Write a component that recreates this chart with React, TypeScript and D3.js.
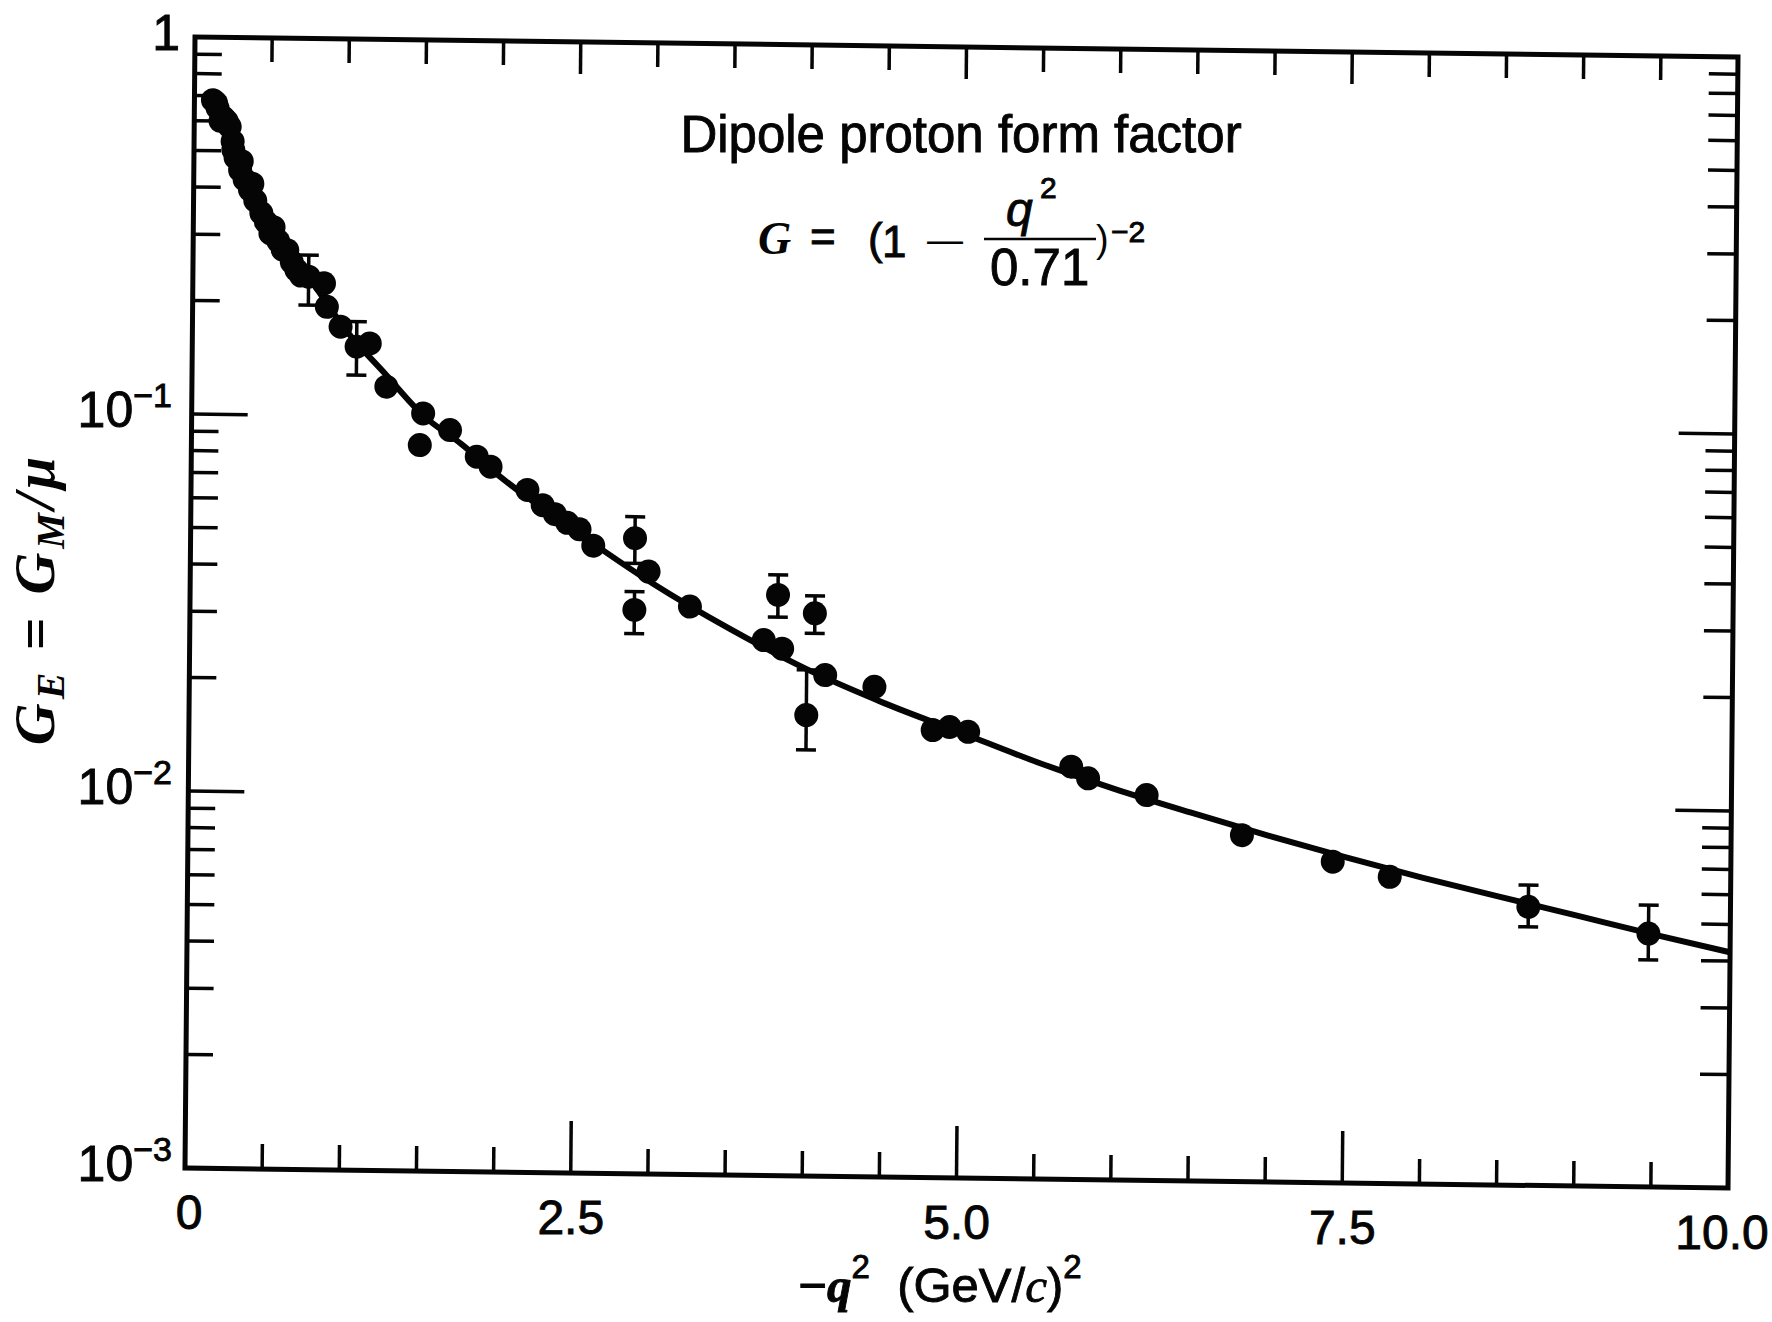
import React from "react";
import * as d3 from "d3";

// ---------- data ----------
// measured form factor points: -q^2 (GeV/c)^2 and G
const pointQ2 = [
  0.12, 0.14, 0.15, 0.17, 0.19, 0.21, 0.23, 0.25, 0.255, 0.27, 0.3, 0.31, 0.33, 0.365, 0.38, 0.4, 0.44, 0.47, 0.5, 0.52, 0.55,
  0.58, 0.61, 0.64, 0.67, 0.7, 0.75, 0.85, 0.87, 0.96,
  1.065, 1.15, 1.26, 1.48, 1.5, 1.675, 1.85, 1.94, 2.18, 2.28, 2.36, 2.44, 2.52, 2.61, 2.88,
  2.88, 2.97, 3.24, 3.72, 3.81, 3.84, 4.0, 4.05, 4.12, 4.44, 4.82, 4.93, 5.05, 5.72, 5.83,
  6.21, 6.83, 7.42, 7.79, 8.69, 9.47,
];
const pointG = [
  0.681, 0.67, 0.65, 0.6, 0.612, 0.6, 0.58, 0.53, 0.503, 0.48, 0.445, 0.47, 0.42, 0.395, 0.41, 0.37, 0.343, 0.325, 0.303, 0.315, 0.29,
  0.275, 0.274, 0.255, 0.243, 0.235, 0.2335, 0.2245, 0.1945, 0.1724,
  0.1528, 0.156, 0.12, 0.0842, 0.1022, 0.0925, 0.0788, 0.0742, 0.0646, 0.0589, 0.0558, 0.053, 0.051, 0.0462, 0.0485,
  0.0313, 0.0396, 0.0321, 0.0263, 0.0347, 0.025, 0.0167, 0.0311, 0.02135, 0.01995, 0.01539, 0.0157, 0.01527, 0.01244, 0.0116,
  0.01052, 0.0083, 0.00711, 0.00651, 0.00548, 0.0047,
];
// error bars
const errQ2 = [0.75, 1.065, 2.88, 2.88, 3.81, 4.0, 4.05, 8.69, 9.47];
const errLo = [0.1963, 0.1285, 0.0416, 0.0271, 0.0303, 0.01349, 0.0275, 0.00485, 0.004];
const errHi = [0.2665, 0.178, 0.0553, 0.035, 0.0392, 0.022, 0.0346, 0.00626, 0.00559];

// dipole curve as drawn
const curveQ2 = [0.1, 0.2, 0.3, 0.4, 0.5, 0.6, 0.8, 1.0, 1.25, 1.5, 1.75, 2.0, 2.5, 3.0, 3.5, 4.0, 4.5, 5.0, 5.5, 6.0, 6.5, 7.0, 7.5, 8.0, 8.5, 9.0, 9.5, 10.0];
const curveG = [0.72, 0.59, 0.455, 0.375, 0.325, 0.282, 0.218, 0.168, 0.13, 0.101, 0.085, 0.07, 0.0502, 0.0368, 0.0281, 0.0221, 0.0181, 0.0152, 0.01275, 0.0109, 0.00948, 0.0083, 0.00732, 0.0065, 0.00582, 0.00522, 0.00468, 0.00422];

// axes
const xMajorTicks = [0, 2.5, 5, 7.5, 10];
const xTickLabels = ["0", "2.5", "5.0", "7.5", "10.0"];
const xAllTicks = [0.5, 1, 1.5, 2, 2.5, 3, 3.5, 4, 4.5, 5, 5.5, 6, 6.5, 7, 7.5, 8, 8.5, 9, 9.5];
const yMajorTicks = [1, 0.1, 0.01, 0.001];
const yTickBase = ["1", "10", "10", "10"];
const yTickExp = ["", "\u22121", "\u22122", "\u22123"];

const titleText = "Dipole proton form factor";

// ---------- layout ----------
const W = 1543;
const H = 1131;
const M = { a: 1, b: 0.01296, c: -0.00884, d: 1, e: 195, f: 37 };
const page = (lx: number, ly: number): [number, number] => [
  M.a * lx + M.c * ly + M.e,
  M.b * lx + M.d * ly + M.f,
];

const SANS = "'Liberation Sans', Arial, Helvetica, sans-serif";
const SERIF = "'Liberation Serif', 'Times New Roman', serif";

export default function App() {
  const x = d3.scaleLinear().domain([0, 10]).range([0, W]);
  const y = d3.scaleLog().domain([0.001, 1]).range([H, 0]);

  const curvePts = curveQ2.map((q, i) => [q, curveG[i]] as [number, number]);
  const line = d3
    .line<[number, number]>()
    .x((d) => x(d[0]))
    .y((d) => y(d[1]))
    .curve(d3.curveMonotoneX);

  const yMinor = y.ticks().filter((v) => !yMajorTicks.some((m) => Math.abs(m - v) < 1e-12));
  const isXMajor = (v: number) => xMajorTicks.includes(v);

  const ink = "#050505";
  const tStroke = { stroke: ink, strokeWidth: 0.9 };

  return (
    <svg
      width={1772}
      height={1322}
      style={{ position: "absolute", left: 0, top: 0, background: "#fff" }}
    >
      <rect x={0} y={0} width={1772} height={1322} fill="#fff" />
      <g transform={`matrix(${M.a},${M.b},${M.c},${M.d},${M.e},${M.f})`}>
        {/* frame */}
        <rect x={0} y={0} width={W} height={H} fill="none" stroke={ink} strokeWidth={5} />
        {/* bottom & top x ticks */}
        {xAllTicks.map((v) => (
          <g key={"xt" + v}>
            <line x1={x(v)} x2={x(v)} y1={H} y2={H - (isXMajor(v) ? 52 : 25)} stroke={ink} strokeWidth={3.5} />
            <line x1={x(v)} x2={x(v)} y1={0} y2={isXMajor(v) ? 32 : 24} stroke={ink} strokeWidth={3.5} />
          </g>
        ))}
        {/* y ticks left/right */}
        {yMajorTicks.slice(1, 3).map((v) => (
          <g key={"ym" + v}>
            <line x1={0} x2={56} y1={y(v)} y2={y(v)} stroke={ink} strokeWidth={3.5} />
            <line x1={W} x2={W - 56} y1={y(v)} y2={y(v)} stroke={ink} strokeWidth={3.5} />
          </g>
        ))}
        {yMinor.map((v) => (
          <g key={"yn" + v}>
            <line x1={0} x2={27} y1={y(v)} y2={y(v)} stroke={ink} strokeWidth={3.5} />
            <line x1={W} x2={W - 29} y1={y(v)} y2={y(v)} stroke={ink} strokeWidth={3.5} />
          </g>
        ))}
        {/* curve */}
        <path d={line(curvePts) || ""} fill="none" stroke={ink} strokeWidth={6} />
        {/* error bars */}
        {errQ2.map((q, i) => (
          <g key={"e" + i} stroke={ink} strokeWidth={3.5}>
            <line x1={x(q)} x2={x(q)} y1={y(errLo[i])} y2={y(errHi[i])} />
            <line x1={x(q) - 10} x2={x(q) + 10} y1={y(errLo[i])} y2={y(errLo[i])} />
            <line x1={x(q) - 10} x2={x(q) + 10} y1={y(errHi[i])} y2={y(errHi[i])} />
          </g>
        ))}
        {/* points */}
        {pointQ2.map((q, i) => (
          <circle key={"p" + i} cx={x(q)} cy={y(pointG[i])} r={12} fill={ink} />
        ))}
      </g>

      {/* x tick labels */}
      {xMajorTicks.map((v, i) => {
        const [px, py] = page(x(v), H);
        return (
          <text key={"xl" + v} x={px + (i === 0 ? 4 : i === 4 ? -6 : 0)} y={py + 61} textAnchor="middle" fontFamily={SANS} fontSize={48} fill={ink} {...tStroke}>
            {xTickLabels[i]}
          </text>
        );
      })}
      {/* y tick labels */}
      {yMajorTicks.map((v, i) => {
        const [, py] = page(0, y(v));
        return (
          <text key={"yl" + v} x={i === 0 ? 180 : 172} y={py + 13} textAnchor="end" fontFamily={SANS} fontSize={50} fill={ink} {...tStroke}>
            <tspan>{yTickBase[i]}</tspan>
            {yTickExp[i] && (
              <tspan fontSize={34} dy={-20}>
                {yTickExp[i]}
              </tspan>
            )}
          </text>
        );
      })}

      {/* title */}
      <text x={961} y={152} textAnchor="middle" fontFamily={SANS} fontSize={51} fill={ink} {...tStroke}>
        {titleText}
      </text>
      {/* formula G = (1 - q^2/0.71)^-2 */}
      <g fill={ink}>
        <text x={758} y={254} fontFamily={SERIF} fontStyle="italic" fontWeight="bold" fontSize={46}>G</text>
        <text x={810} y={252} fontFamily={SANS} fontSize={44} {...tStroke}>=</text>
        <text x={868} y={254} fontFamily={SANS} fontSize={44} {...tStroke}>(</text>
        <text x={882} y={257} fontFamily={SANS} fontSize={44} {...tStroke}>1</text>
        <text x={927} y={252} fontFamily={SANS} fontSize={36}>{"\u2014"}</text>
        <line x1={984} x2={1096} y1={239} y2={239} stroke={ink} strokeWidth={2.5} />
        <text x={1006} y={226} fontFamily={SANS} fontStyle="italic" fontSize={48} {...tStroke}>q</text>
        <text x={1040} y={198} fontFamily={SANS} fontSize={30} {...tStroke}>2</text>
        <text x={990} y={285} fontFamily={SANS} fontSize={51} {...tStroke}>0.71</text>
        <text x={1096} y={252} fontFamily={SANS} fontSize={38}>)</text>
        <text x={1111} y={242} fontFamily={SANS} fontSize={30} {...tStroke}>{"\u22122"}</text>
      </g>

      {/* x axis label */}
      <text x={940} y={1302} textAnchor="middle" fontFamily={SANS} fontSize={49} fill={ink} {...tStroke}>
        <tspan>{"\u2212"}</tspan>
        <tspan fontFamily={SERIF} fontStyle="italic" fontWeight="bold">q</tspan>
        <tspan fontSize={33} dy={-24}>2</tspan>
        <tspan dy={24}>{"\u00a0\u00a0(GeV/"}</tspan>
        <tspan fontFamily={SERIF} fontStyle="italic">c</tspan>
        <tspan>)</tspan>
        <tspan fontSize={33} dy={-24}>2</tspan>
      </text>

      {/* y axis label */}
      <text
        transform="translate(54,599) rotate(-90)"
        textAnchor="middle"
        fontFamily={SERIF}
        fontStyle="italic"
        fontWeight="bold"
        fontSize={58}
        fill={ink}
        letterSpacing={4}
      >
        <tspan>G</tspan>
        <tspan fontSize={40} dy={10}>E</tspan>
        <tspan dy={-10} fontStyle="normal">{"\u00a0=\u00a0"}</tspan>
        <tspan>G</tspan>
        <tspan fontSize={40} dy={10}>M</tspan>
        <tspan dy={-10}>/</tspan>
        <tspan>{"\u03bc"}</tspan>
      </text>
    </svg>
  );
}
